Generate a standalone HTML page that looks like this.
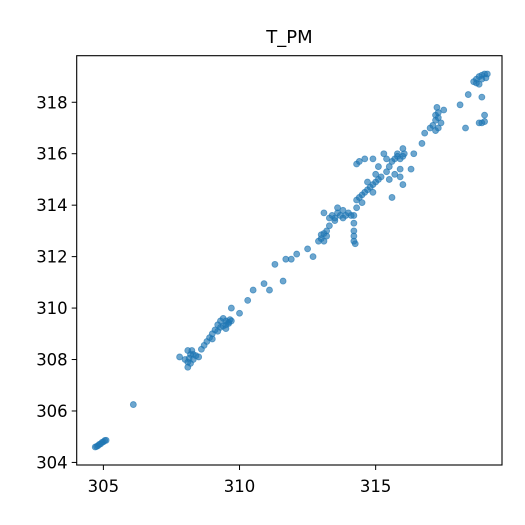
<!DOCTYPE html>
<html><head><meta charset="utf-8"><style>
html,body{margin:0;padding:0;background:#fff;}
svg{display:block;font-family:"DejaVu Sans","Liberation Sans",sans-serif;}
</style></head><body>
<svg id="chart" width="525" height="525" viewBox="0 0 525 525">
<rect width="525" height="525" fill="#fff"/>
<text x="289.5" y="43" font-size="18" text-anchor="middle" fill="#000">T_PM</text>
<g id="points"></g>
<rect x="76.7" y="55.7" width="425.3" height="409.3" fill="none" stroke="#000" stroke-width="1.1"/>
<g id="xaxis"></g>
<g id="yaxis"></g>
</svg>
<script>
const xVals=[304.7,304.75,304.8,304.85,304.9,304.95,305.0,305.05,305.1,306.1,
307.8,308.0,308.1,308.1,308.15,308.2,308.1,308.25,308.3,308.4,308.5,308.2,308.3,
308.6,308.7,308.8,308.9,309.0,309.0,309.1,309.2,309.3,309.4,309.5,309.6,309.7,309.5,309.3,309.2,309.4,309.6,309.65,309.5,309.7,310.0,310.3,310.5,310.9,311.1,311.3,311.6,311.7,311.9,312.1,312.5,312.7,
312.9,313.0,313.0,313.1,313.2,313.1,313.2,313.3,313.1,313.3,313.4,313.5,313.6,313.7,313.8,313.9,314.0,313.6,313.5,313.8,314.1,314.2,314.2,314.2,314.25,314.2,314.2,314.3,314.3,314.4,314.5,314.6,314.7,314.8,314.9,314.5,314.7,314.9,315.0,315.1,315.2,315.0,314.3,314.4,314.6,314.9,315.3,315.1,315.4,315.5,315.6,315.7,315.8,315.9,316.0,316.05,315.5,315.7,315.9,315.9,316.0,315.6,315.4,315.8,316.0,316.4,316.7,316.3,316.8,317.0,
317.1,317.2,317.3,317.2,317.3,317.25,317.4,317.2,317.3,317.5,318.1,318.4,318.3,
318.6,318.7,318.8,318.9,319.0,319.1,318.7,318.9,319.05,318.8,318.9,319.0,318.9,319.0,318.8];
const yVals=[304.6,304.62,304.65,304.7,304.72,304.78,304.8,304.85,304.86,306.25,
308.1,308.0,307.7,307.9,308.05,307.85,308.35,308.35,308.2,308.15,308.1,308.2,308.0,
308.4,308.55,308.7,308.85,309.0,308.8,309.15,309.1,309.25,309.3,309.35,309.45,309.5,309.5,309.5,309.35,309.6,309.4,309.55,309.2,310.0,309.8,310.3,310.7,310.95,310.7,311.7,311.05,311.9,311.9,312.1,312.3,312.0,
312.6,312.7,312.85,312.9,312.8,312.6,313.0,313.2,313.7,313.5,313.6,313.5,313.7,313.6,313.5,313.6,313.7,313.9,313.4,313.8,313.6,313.0,312.8,312.6,312.5,313.3,313.6,313.9,314.2,314.3,314.4,314.5,314.6,314.7,314.8,314.1,314.9,314.5,314.9,315.0,315.1,315.2,315.6,315.7,315.8,315.8,316.0,315.5,315.3,315.5,315.7,315.8,315.9,315.8,315.9,316.0,315.0,315.2,315.4,315.1,314.8,314.3,315.8,316.0,316.2,316.0,316.4,315.4,316.8,317.0,
317.1,317.3,317.4,317.5,317.6,317.8,317.2,316.9,317.0,317.7,317.9,318.3,317.0,
318.8,318.9,319.0,319.05,319.1,319.1,318.75,318.9,318.95,318.7,318.2,317.5,317.2,317.25,317.2];
const xTicks=[305,310,315];
const yTicks=[304,306,308,310,312,314,316,318];
const NS="http://www.w3.org/2000/svg";
const X0=76.7,X1=502,Y0=465,Y1=55.7;
const xMin=304.02,xMax=319.64,yMin=303.9,yMax=319.81;
function sx(v){return X0+(v-xMin)/(xMax-xMin)*(X1-X0);}
function sy(v){return Y0-(v-yMin)/(yMax-yMin)*(Y0-Y1);}
const pts=document.getElementById('points');
for(let i=0;i<xVals.length;i++){
  const c=document.createElementNS(NS,'circle');
  c.setAttribute('cx',sx(xVals[i]));c.setAttribute('cy',sy(yVals[i]));
  c.setAttribute('r',3);c.setAttribute('fill','#1f77b4');c.setAttribute('fill-opacity','0.65');
  c.setAttribute('stroke','#1f77b4');c.setAttribute('stroke-opacity','0.65');c.setAttribute('stroke-width','0.8');
  
  
  pts.appendChild(c);
}
const xa=document.getElementById('xaxis');
xTicks.forEach(t=>{
  const l=document.createElementNS(NS,'line');
  l.setAttribute('x1',sx(t));l.setAttribute('x2',sx(t));l.setAttribute('y1',Y0);l.setAttribute('y2',Y0+5);
  l.setAttribute('stroke','#000');l.setAttribute('stroke-width','1');
  
  
  xa.appendChild(l);
  const tx=document.createElementNS(NS,'text');
  tx.setAttribute('x',sx(t));tx.setAttribute('y',Y0+27);tx.setAttribute('text-anchor','middle');
  tx.setAttribute('font-size','16.5');tx.textContent=t;
  
  
  xa.appendChild(tx);
});
const ya=document.getElementById('yaxis');
yTicks.forEach(t=>{
  const l=document.createElementNS(NS,'line');
  l.setAttribute('x1',X0-5);l.setAttribute('x2',X0);l.setAttribute('y1',sy(t));l.setAttribute('y2',sy(t));
  l.setAttribute('stroke','#000');l.setAttribute('stroke-width','1');
  
  
  ya.appendChild(l);
  const tx=document.createElementNS(NS,'text');
  tx.setAttribute('x',X0-9);tx.setAttribute('y',sy(t)+6);tx.setAttribute('text-anchor','end');
  tx.setAttribute('font-size','16.5');tx.textContent=t;
  
  
  ya.appendChild(tx);
});
</script>
</body></html>
